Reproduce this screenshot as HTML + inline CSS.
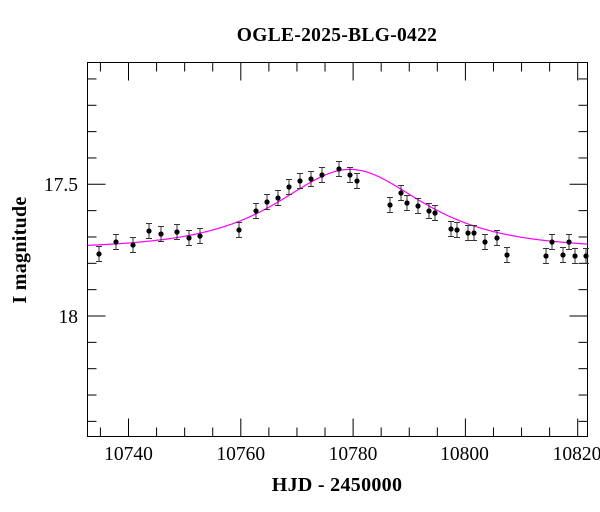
<!DOCTYPE html>
<html><head><meta charset="utf-8"><style>
html,body{margin:0;padding:0;background:#fff;width:600px;height:512px;overflow:hidden}
text{font-family:"Liberation Serif",serif;fill:#000}
</style></head><body>
<svg id="s" width="600" height="512" viewBox="0 0 600 512" xmlns="http://www.w3.org/2000/svg">
<rect x="87.5" y="62.5" width="500" height="374" fill="none" stroke="#000" stroke-width="1"/>
<g id="ticks" stroke="#000" stroke-width="1"></g>
<path id="curve" fill="none" stroke="#ff00ff" stroke-width="1.2"/>
<g id="pts"></g>
<text x="337" y="41" font-size="19.5" font-weight="bold" text-anchor="middle" letter-spacing="0.3">OGLE-2025-BLG-0422</text>
<text x="337" y="491" font-size="20" font-weight="bold" text-anchor="middle" letter-spacing="0.3">HJD - 2450000</text>
<text transform="translate(26,250) rotate(-90)" font-size="20" font-weight="bold" text-anchor="middle" letter-spacing="0.3">I magnitude</text>
<text x="78" y="191" font-size="19.5" text-anchor="end">17.5</text>
<text x="78" y="323" font-size="19.5" text-anchor="end">18</text>
<text x="128.5" y="460" font-size="19.5" text-anchor="middle">10740</text>
<text x="240.8" y="460" font-size="19.5" text-anchor="middle">10760</text>
<text x="353" y="460" font-size="19.5" text-anchor="middle">10780</text>
<text x="464.5" y="460" font-size="19.5" text-anchor="middle">10800</text>
<text x="577" y="460" font-size="19.5" text-anchor="middle">10820</text>
</svg>
<script>
var t=document.getElementById('ticks'),h='';
var pxd=5.615,x0=128.5;
for(var d=10735;d<=10820;d+=5){var x=x0+(d-10740)*pxd;var L=(d%20==0)?18:9;
h+='<line x1="'+x+'" y1="436.5" x2="'+x+'" y2="'+(436.5-L)+'"/><line x1="'+x+'" y1="62.5" x2="'+x+'" y2="'+(62.5+L)+'"/>';}
for(var i=-4;i<=14;i++){var y=184.3+i*26.34;if(y<63||y>436)continue;var L=(i%5==0)?18:9;
h+='<line x1="87.5" y1="'+y+'" x2="'+(87.5+L)+'" y2="'+y+'"/><line x1="587.5" y1="'+y+'" x2="'+(587.5-L)+'" y2="'+y+'"/>';}
t.innerHTML=h;
function A(u){return (u*u+2)/(u*Math.sqrt(u*u+4));}
var p='';for(var x=88;x<=587;x+=1){var tau=(x-350)/85,u=Math.sqrt(1.03*1.03+tau*tau);var y=249-2.5*Math.log10(A(u))*263.4;p+=(x==88?'M':'L')+x+','+y.toFixed(2);}
document.getElementById('curve').setAttribute('d',p);
var P=[[99,254],[116,242],[133,245],[149,231],[161,234],[177,232],[189,238],[200,236],[239,230],[256,211],[267,202],[278,198],[289,187],[300,181],[311,179],[322,175],[339,169],[350,175],[357,181],[390,205],[401,193],[407,203],[418,206],[429,211],[435,213],[451,229],[457,230],[468,233],[474,233],[485,242],[497,238],[507,255],[546,256],[552,242],[563,255],[569,242],[575,256],[586,256]];
var g='';P.forEach(function(q){var x=q[0],y=q[1],e=7.5;
g+='<line x1="'+x+'" y1="'+(y-e)+'" x2="'+x+'" y2="'+(y+e)+'" stroke="#333" stroke-width="1"/>';
g+='<line x1="'+(x-3)+'" y1="'+(y-e)+'" x2="'+(x+3)+'" y2="'+(y-e)+'" stroke="#333"/>';
g+='<line x1="'+(x-3)+'" y1="'+(y+e)+'" x2="'+(x+3)+'" y2="'+(y+e)+'" stroke="#333"/>';
g+='<circle cx="'+x+'" cy="'+y+'" r="2.6" fill="#000"/>';});
document.getElementById('pts').innerHTML=g;
</script>
</body></html>
